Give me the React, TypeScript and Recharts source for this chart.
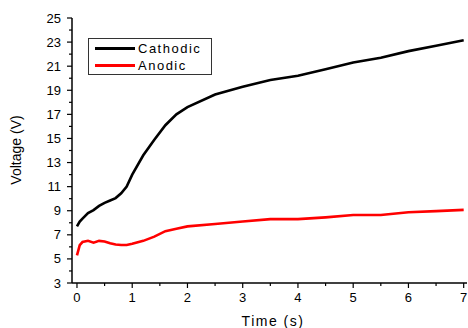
import React from 'react';
import { LineChart, Line, XAxis, YAxis, Label } from 'recharts';

// time (s) samples and voltage readings (V)
const time = [0, 0.05, 0.1, 0.2, 0.3, 0.4, 0.5, 0.6, 0.7, 0.8, 0.9, 1.0, 1.2, 1.4, 1.6, 1.8, 2.0, 2.5, 3.0, 3.5, 4.0, 4.5, 5.0, 5.5, 6.0, 6.5, 7.0];
const cathodic = [7.7, 8.1, 8.35, 8.8, 9.05, 9.4, 9.65, 9.85, 10.05, 10.45, 11.0, 12.0, 13.6, 14.9, 16.1, 17.0, 17.6, 18.65, 19.3, 19.85, 20.2, 20.75, 21.3, 21.7, 22.25, 22.7, 23.15];
const anodic = [5.3, 6.15, 6.4, 6.5, 6.35, 6.5, 6.45, 6.3, 6.2, 6.15, 6.15, 6.25, 6.5, 6.85, 7.3, 7.5, 7.7, 7.9, 8.1, 8.3, 8.3, 8.45, 8.65, 8.65, 8.87, 8.97, 9.07];

const xTicks = [0, 0.5, 1, 1.5, 2, 2.5, 3, 3.5, 4, 4.5, 5, 5.5, 6, 6.5, 7];
const yTicks = [3, 4, 5, 6, 7, 8, 9, 10, 11, 12, 13, 14, 15, 16, 17, 18, 19, 20, 21, 22, 23, 24, 25];

const series = [
  { key: 'cathodic', name: 'Cathodic', color: '#000000' },
  { key: 'anodic', name: 'Anodic', color: '#ff0000' },
];

const data = time.map((t, i) => ({ t, cathodic: cathodic[i], anodic: anodic[i] }));

const FONT = '"Liberation Sans", Arial, sans-serif';

const XTick = (props: any) => {
  const { x, y, payload } = props;
  const major = Number.isInteger(payload.value);
  return (
    <g>
      <line x1={x} y1={y} x2={x} y2={y + (major ? 5 : 3)} stroke="#000" strokeWidth={1.2} />
      {major && (
        <text x={x} y={y + 19} textAnchor="middle" fontSize={13} fontFamily={FONT} fill="#000">
          {payload.value}
        </text>
      )}
    </g>
  );
};

const YTick = (props: any) => {
  const { x, y, payload } = props;
  const major = payload.value % 2 === 1;
  return (
    <g>
      <line x1={x} y1={y} x2={x - (major ? 5 : 3)} y2={y} stroke="#000" strokeWidth={1.2} />
      {major && (
        <text x={x - 11} y={y + 4.5} textAnchor="end" fontSize={13} fontFamily={FONT} fill="#000">
          {payload.value}
        </text>
      )}
    </g>
  );
};

const LegendBox = () => (
  <div
    style={{
      position: 'absolute',
      left: 88,
      top: 38,
      width: 124,
      height: 37,
      border: '1px solid #333',
      background: '#fff',
      fontFamily: FONT,
      fontSize: 13,
      letterSpacing: 1.5,
      boxSizing: 'border-box',
      paddingTop: 1,
      lineHeight: '16px',
    }}
  >
    {series.map((s) => (
      <div key={s.key} style={{ display: 'flex', alignItems: 'center', height: 17 }}>
        <span style={{ display: 'inline-block', width: 40, height: 2.5, background: s.color, marginLeft: 6, marginRight: 3 }} />
        <span>{s.name}</span>
      </div>
    ))}
  </div>
);

export default function App() {
  return (
    <div style={{ position: 'absolute', left: 0, top: 0, width: 468, height: 328, background: '#fff' }}>
      <LineChart width={468} height={328} data={data} margin={{ top: 18, right: 1, left: 0, bottom: 0 }}>
        <XAxis
          dataKey="t"
          type="number"
          domain={[-0.09, 7.06]}
          ticks={xTicks}
          allowDataOverflow
          height={45}
          tickSize={0}
          tickMargin={0}
          tickLine={false}
          tick={<XTick />}
          axisLine={{ stroke: '#000', strokeWidth: 1.5 }}
          interval={0}
        >
          <Label
            content={() => (
              <text x={273} y={326} textAnchor="middle" fontSize={14} letterSpacing={1.5} fontFamily={FONT} fill="#000">
                Time (s)
              </text>
            )}
          />
        </XAxis>
        <XAxis
          xAxisId="top"
          dataKey="t"
          type="number"
          orientation="top"
          domain={[-0.09, 7.06]}
          allowDataOverflow
          height={0}
          tick={false}
          tickLine={false}
          axisLine={{ stroke: '#000', strokeWidth: 1.5 }}
        />
        <YAxis
          type="number"
          domain={[3, 25]}
          ticks={yTicks}
          width={72}
          tickSize={0}
          tickMargin={0}
          tickLine={false}
          tick={<YTick />}
          axisLine={{ stroke: '#000', strokeWidth: 1.5 }}
          interval={0}
        >
          <Label
            content={() => (
              <text
                x={21}
                y={150}
                transform="rotate(-90 21 150)"
                textAnchor="middle"
                fontSize={14}
                fontFamily={FONT}
                fill="#000"
              >
                Voltage (V)
              </text>
            )}
          />
        </YAxis>
        {series.map((s) => (
          <Line
            key={s.key}
            dataKey={s.key}
            name={s.name}
            type="linear"
            stroke={s.color}
            strokeWidth={2.6}
            dot={false}
            isAnimationActive={false}
          />
        ))}
      </LineChart>
      <LegendBox />
    </div>
  );
}
